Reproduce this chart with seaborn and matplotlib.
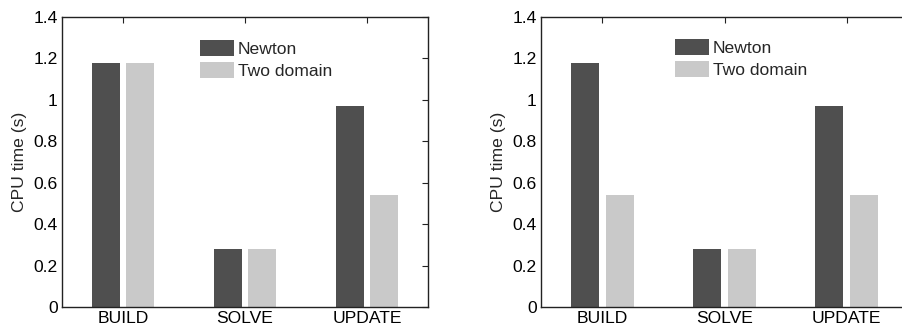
import matplotlib
matplotlib.use("Agg")
import matplotlib.pyplot as plt
import seaborn as sns
import pandas as pd

# Timing of each solver phase (seconds)
stages = ["BUILD", "SOLVE", "UPDATE"]
methods = ["Newton", "Two domain"]
newton_left = [1.18, 0.28, 0.97]
twodomain_left = [1.18, 0.28, 0.54]
newton_right = [1.18, 0.28, 0.97]
twodomain_right = [0.54, 0.28, 0.54]
yticks = [0, 0.2, 0.4, 0.6, 0.8, 1.0, 1.2, 1.4]
yticklabels = ["0", "0.2", "0.4", "0.6", "0.8", "1", "1.2", "1.4"]

sns.set_style("white")
plt.rcParams["font.family"] = ["Liberation Sans", "DejaVu Sans"]
FS = 12.6
plt.rcParams["font.size"] = FS

colors = {"Newton": "#4f4f4f", "Two domain": "#c9c9c9"}


def long_table(newton, twodomain):
    rows = []
    for s, a, b in zip(stages, newton, twodomain):
        rows.append({"stage": s, "method": methods[0], "time": a})
        rows.append({"stage": s, "method": methods[1], "time": b})
    return pd.DataFrame(rows)


fig = plt.figure(figsize=(9.02, 3.28), dpi=100)
ax1 = fig.add_axes([62 / 902, 21 / 328, 366 / 902, 290 / 328])
ax2 = fig.add_axes([541 / 902, 21 / 328, 367 / 902, 290 / 328])

legend_anchor = {0: (0.377, 0.921), 1: (0.365, 0.924)}

for i, (ax, nw, td) in enumerate([(ax1, newton_left, twodomain_left),
                                  (ax2, newton_right, twodomain_right)]):
    df = long_table(nw, td)
    sns.barplot(data=df, x="stage", y="time", hue="method",
                order=stages, hue_order=methods, palette=colors,
                width=0.57, gap=0.2, saturation=1, linewidth=0,
                errorbar=None, ax=ax)
    ax.set_xlim(-0.5, 2.5)
    ax.set_ylim(0, 1.4)
    ax.set_yticks(yticks)
    ax.set_yticklabels(yticklabels)
    ax.set_xlabel("")
    ax.set_ylabel("CPU time (s)", fontsize=FS, labelpad=5)
    for sp in ax.spines.values():
        sp.set_visible(True)
        sp.set_color("#222222")
        sp.set_linewidth(1.0)
    ax.tick_params(axis="both", direction="in", length=4, width=0.8,
                   color="#222222", labelsize=FS, labelcolor="black",
                   top=True, right=True, pad=3)
    ax.legend(loc="upper left", bbox_to_anchor=legend_anchor[i],
              frameon=False, borderpad=0, borderaxespad=0,
              handlelength=1.94, handleheight=1.03,
              handletextpad=0.23, labelspacing=0.29, fontsize=FS)

fig.savefig("out.png", dpi=100)
